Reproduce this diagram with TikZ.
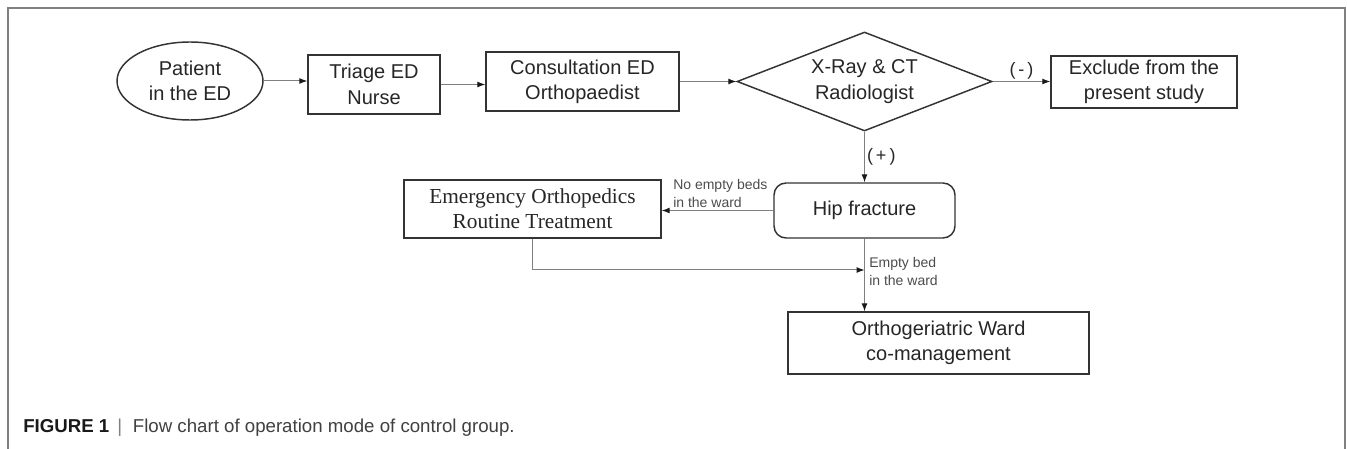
\documentclass[tikz,border=0pt]{standalone}
\usepackage{fontspec}
\setmainfont{Liberation Sans}
\newfontfamily\timesfont{Liberation Serif}
\usetikzlibrary{shapes.geometric,arrows.meta}
\begin{document}
\begin{tikzpicture}[x=0.75pt,y=-0.75pt,font=\fontsize{15}{19}\selectfont,
	box/.style={draw=black!80,line width=1.1pt,text=black!85,align=center,inner sep=0pt},
	arr/.style={draw=black!50,line width=0.75pt,-{Latex[length=6pt,width=4.5pt,color=black!90]}},
	lbl/.style={text=black!70,align=left,inner sep=0pt,font=\fontsize{10.5}{13.5}\selectfont},
	sgn/.style={inner sep=1.5pt,text=black!85,font=\fontsize{13.5}{16}\selectfont}]
	\useasboundingbox (0,0) rectangle (1347,449);
	\draw[black!50,line width=1pt] (8,449)--(8,8)--(1345,8)--(1345,449);
	% boxes
	\node[box,ellipse,minimum width=109.5pt,minimum height=58.5pt] (pat) at (190,81) {Patient\\in the ED};
	\node[box,minimum width=99pt,minimum height=44.25pt] (tri) at (374,84.5) {Triage ED\\Nurse};
	\node[box,minimum width=144.75pt,minimum height=44.25pt] (con) at (582.5,81.5) {Consultation ED\\Orthopaedist};
	\node[box,diamond,aspect=2.6,minimum width=191.25pt,minimum height=74.25pt] (xr) at (864.5,81.5) {X-Ray \& CT\\Radiologist};
	\node[box,minimum width=139.5pt,minimum height=39pt] (exc) at (1144,82) {Exclude from the\\present study};
	\node[box,rounded corners=9pt,minimum width=135.75pt,minimum height=41.25pt] (hip) at (864.5,210.5) {Hip fracture};
	\node[box,font=\timesfont\fontsize{16}{18.75}\selectfont,minimum width=192.75pt,minimum height=43.5pt] (emr) at (532.5,209) {Emergency Orthopedics\\Routine Treatment};
	\node[box,minimum width=225.75pt,minimum height=46.5pt] (ort) at (938.5,343) {Orthogeriatric Ward\\co-management};
	% arrows
	\draw[arr] (pat.east)--(pat.east -| tri.west);
	\draw[arr] (tri.east)--(tri.east -| con.west);
	\draw[arr] (con.east)--(xr.west);
	\draw[arr] (xr.east)--(xr.east -| exc.west) node[sgn,midway,above]{(\,-\,)};
	\draw[arr] (xr.south)--(hip.north) node[sgn,midway,right]{(\,+\,)};
	\draw[arr] (hip.west)--(hip.west -| emr.east);
	\node[lbl,anchor=west] (nob) at (673,193) {No empty beds\\in the ward};
	\coordinate (mrg) at (864.5,270);
	\draw[arr] (emr.south) |- (mrg);
	\draw[arr] (hip.south)--(hip.south |- ort.north);
	\node[lbl,anchor=west] (emp) at (869,271) {Empty bed\\in the ward};
	% caption
	\node[anchor=base west,inner sep=0pt,font=\fontsize{14}{16}\selectfont,text=black!75] (cap) at (23,432) {\textbf{\color{black!90}FIGURE 1}\hspace{6pt}{\color{black!50}|}\hspace{8pt}Flow chart of operation mode of control group.};
\end{tikzpicture}
\end{document}
